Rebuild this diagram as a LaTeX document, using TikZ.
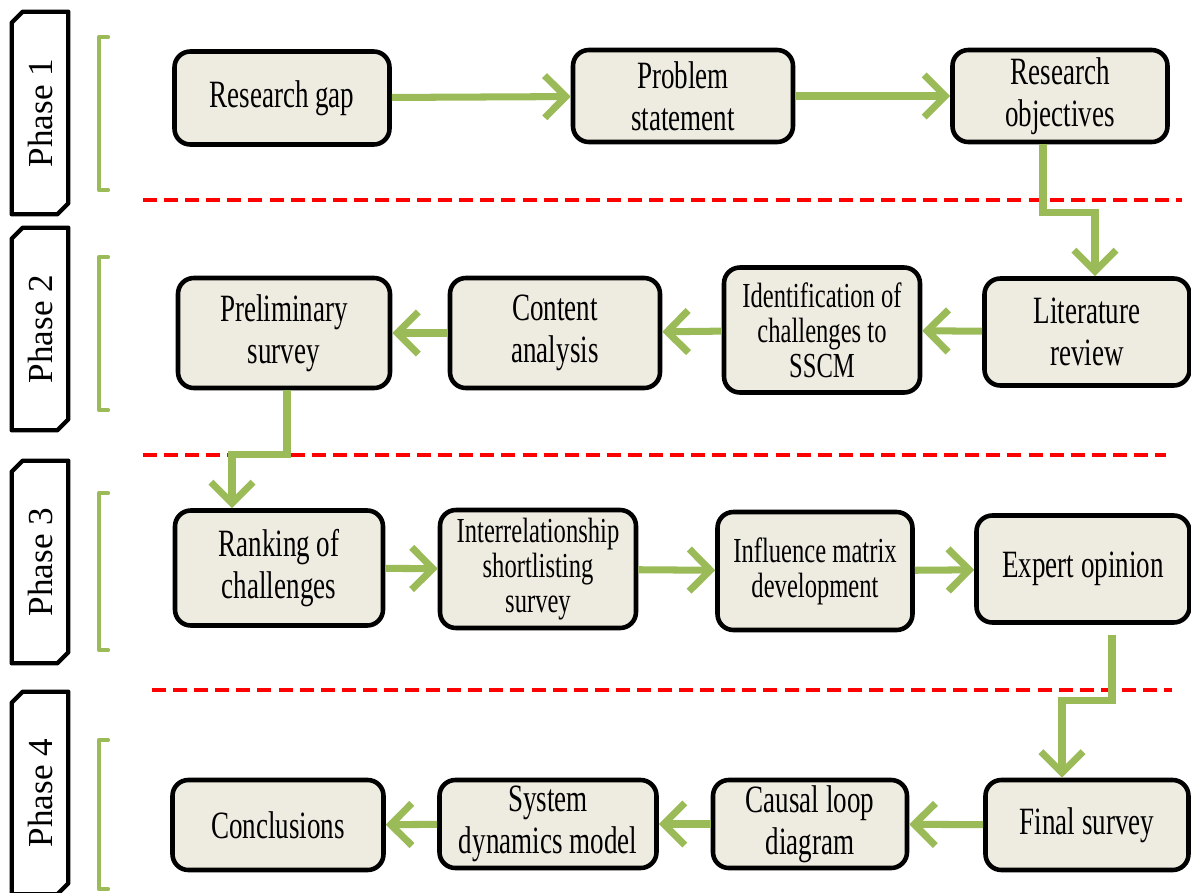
\documentclass[tikz,border=0pt]{standalone}
\usepackage{fontspec}
\setmainfont{Liberation Serif}[FakeStretch=0.7]
\newfontfamily\phasefont{Liberation Serif}
\usetikzlibrary{arrows.meta}
\definecolor{boxFill}{HTML}{EEECE1}
\definecolor{arrowGreen}{HTML}{9BBB59}
\definecolor{sepRed}{HTML}{FF0000}

\begin{document}
\begin{tikzpicture}
[x=0.02cm,y=-0.02cm,
  boxDecorate/.style={shape=rectangle,rounded corners=9pt,draw,line width=2.6pt,
    fill=boxFill,align=center,inner sep=2pt,font=\fontsize{22}{24}\selectfont},%
  smallText/.style={font=\fontsize{20}{20}\selectfont},%
  phaseDecorate/.style={shape=rectangle,minimum width=1.12cm,minimum height=4.04cm,
    inner sep=0pt,font=\phasefont\fontsize{20}{24}\selectfont},%
  phaseLine/.style={draw,line width=2.4pt,fill=white,line join=round},%
  bracketStyle/.style={draw=arrowGreen,line width=2.4pt,line cap=round,line join=round}]
\useasboundingbox (0,0) rectangle (1191,893);
\clip (0,0) rectangle (1191,893);
%% phases
\foreach \n/\y/\top/\bot in {1/113/37/190, 2/329/257/410, 3/562/493/650, 4/793/740/889}
{
  \node (phase\n) at (40,\y) [phaseDecorate] {};
  \draw[phaseLine] ([xshift=0.22cm]phase\n.north west) -- (phase\n.north east)
    -- ([yshift=0.22cm]phase\n.south east) -- ([xshift=-0.22cm]phase\n.south east)
    -- (phase\n.south west) -- ([yshift=-0.22cm]phase\n.north west) -- cycle;
  \node[phaseDecorate] at (phase\n) {\rotatebox{90}{Phase \n}};
  \draw[bracketStyle] (108,\top) -- (99,\top) -- (99,\bot) -- (108,\bot);
}
%% separators
\tikzstyle{SepStyle}=[draw=sepRed,line width=2.3pt,dash pattern=on 8pt off 4pt]
\draw[SepStyle] (143,200) -- (1182,200);
\draw[SepStyle] (143,455) -- (1166,455);
\draw[SepStyle] (152,690) -- (1172,690);
%% boxes
\foreach \nodename/\x/\y/\w/\h/\txt in {
  rgap/282/98/215/93/{Research gap}, pstate/683/96/220/92/{Problem\\statement},
  robj/1060/96/215/92/{Research\\objectives},
  prelim/284/333/212/110/{Preliminary\\survey}, content/555/333/210/110/{Content\\analysis},
  litrev/1087/332/205/107/{Literature\\review},
  ranking/279/568/208/115/{Ranking of\\challenges}, expert/1083/569/213/107/{Expert opinion},
  concl/278/825/211/90/{Conclusions}, sysdyn/548/824/217/88/{System\\dynamics model},
  causal/810/824/194/88/{Causal loop\\diagram}, finalsurvey/1087/825/203/90/{Final survey}}
{
  \node (\nodename) at (\x,\y) [boxDecorate,minimum width=\w*0.02cm,minimum height=\h*0.02cm] {\txt};
}
\node (ident) at (822,330) [boxDecorate,smallText,minimum width=3.92cm,minimum height=2.5cm]
  {Identification of\\challenges to\\SSCM};
\node (interrel) at (538,569) [boxDecorate,smallText,minimum width=3.92cm,minimum height=2.36cm]
  {Interrelationship\\shortlisting\\survey};
\node (influence) at (815,571) [boxDecorate,smallText,minimum width=3.9cm,minimum height=2.36cm]
  {Influence matrix\\development};
%% arrows
\tikzstyle{FlowStyle}=[draw=arrowGreen,line width=4pt,-{Straight Barb[length=12pt,width=24pt]}]
\foreach \startnode/\endnode in {
  rgap/pstate, pstate/robj, litrev/ident, ident/content, content/prelim,
  ranking/interrel, interrel/influence, influence/expert,
  finalsurvey/causal, causal/sysdyn, sysdyn/concl}
{
  \draw[FlowStyle] (\startnode) -- (\endnode);
}
\draw[FlowStyle] ([xshift=-0.34cm]robj.south) -- ++(0,68) -| ([xshift=0.16cm]litrev.north);
\draw[FlowStyle] ([xshift=0.06cm]prelim.south) -- ++(0,64) -| ([xshift=-0.94cm]ranking.north);
\draw[FlowStyle] ([xshift=0.58cm,yshift=-0.2cm]expert.south) -- ++(0,66) -| ([xshift=-0.5cm]finalsurvey.north);
\end{tikzpicture}
\end{document}
